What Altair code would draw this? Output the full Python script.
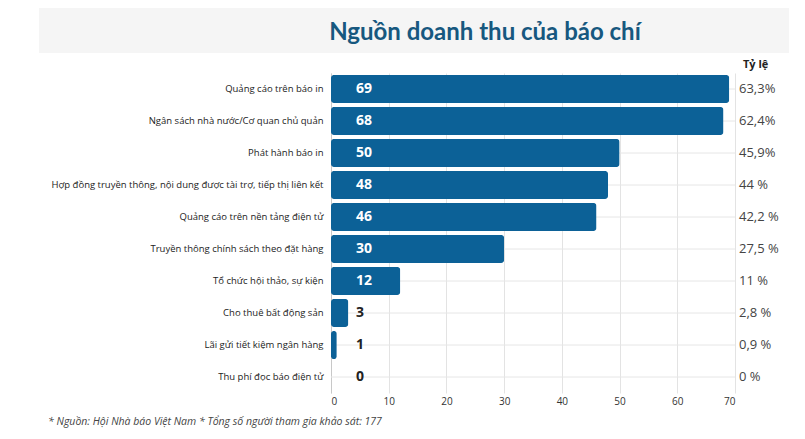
import altair as alt
import pandas as pd

categories = [
    "Quảng cáo trên báo in",
    "Ngân sách nhà nước/Cơ quan chủ quản",
    "Phát hành báo in",
    "Hợp đồng truyền thông, nội dung được tài trợ, tiếp thị liên kết",
    "Quảng cáo trên nền tảng điện tử",
    "Truyền thông chính sách theo đặt hàng",
    "Tổ chức hội thảo, sự kiện",
    "Cho thuê bất động sản",
    "Lãi gửi tiết kiệm ngân hàng",
    "Thu phí đọc báo điện tử",
]
values = [69, 68, 50, 48, 46, 30, 12, 3, 1, 0]
pct_labels = ["63,3%", "62,4%", "45,9%", "44 %", "42,2 %", "27,5 %", "11 %", "2,8 %", "0,9 %", "0 %"]
x_ticks = [0, 10, 20, 30, 40, 50, 60, 70]

title_text = "Nguồn doanh thu của báo chí"
ratio_header = "Tỷ lệ"
footer_text = "*  Nguồn: Hội Nhà báo Việt Nam * Tổng số người tham gia khảo sát: 177"

df = pd.DataFrame({"cat": categories, "val": values, "pct": pct_labels})
df["lbl"] = df["val"].astype(str)

W, H = 404, 320
FONT = "Open Sans"

yenc = alt.Y(
    "cat:N",
    sort=categories,
    scale=alt.Scale(paddingInner=0.12, paddingOuter=0.06),
    axis=alt.Axis(
        title=None, ticks=False, domain=True, domainColor="#c8c8c8", grid=False,
        labelFont=FONT, labelFontSize=9.5, labelColor="#222222", labelPadding=8,
        labelLimit=320,
    ),
)
xenc = alt.X(
    "val:Q",
    scale=alt.Scale(domain=[0, 70]),
    axis=alt.Axis(
        title=None, values=x_ticks, domain=False, grid=True, gridColor="#e3e3e3",
        ticks=False, labelFont=FONT, labelFontSize=10,
        labelColor="#333333", labelPadding=3,
    ),
)

base = alt.Chart(df)

band = alt.Chart(pd.DataFrame({"a": [1]})).mark_rect(color="#f5f5f5").encode(
    x=alt.value(-292), x2=alt.value(461), y=alt.value(-65), y2=alt.value(-20)
)

hrules = base.mark_rule(color="#e6e6e6", strokeWidth=1).encode(
    y=alt.Y("cat:N", sort=categories), x=alt.value(0), x2=alt.value(W)
)

bars = base.mark_bar(color="#0c6197", cornerRadius=3).encode(x=xenc, y=yenc)

vals = base.mark_text(align="left", baseline="middle", font=FONT, fontSize=14,
                      fontWeight="bold").encode(
    y=alt.Y("cat:N", sort=categories),
    x=alt.value(25),
    text="lbl:N",
    color=alt.condition(alt.datum.val >= 10, alt.value("white"), alt.value("#222222")),
)

pcts = base.mark_text(align="left", baseline="middle", font=FONT, fontSize=13,
                      color="#444444").encode(
    y=alt.Y("cat:N", sort=categories), x=alt.value(408), text="pct:N"
)

header = alt.Chart(pd.DataFrame({"t": [ratio_header]})).mark_text(
    align="left", baseline="middle", font=FONT, fontSize=11, fontWeight="bold", color="#222222"
).encode(text="t:N", x=alt.value(412), y=alt.value(-8))

title = alt.Chart(pd.DataFrame({"t": [title_text]})).mark_text(
    align="center", baseline="middle", font="Lato", fontSize=24, fontWeight="bold", color="#17587f"
).encode(text="t:N", x=alt.value(154), y=alt.value(-40))

footer = alt.Chart(pd.DataFrame({"t": [footer_text]})).mark_text(
    align="left", baseline="middle", font=FONT, fontSize=10.5, fontStyle="italic", color="#444444"
).encode(text="t:N", x=alt.value(-283), y=alt.value(349))

chart = alt.layer(band, hrules, bars, vals, pcts, header, title, footer).properties(
    width=W, height=H,
    autosize=alt.AutoSizeParams(type="none"),
    padding={"left": 323, "top": 65, "right": 54, "bottom": 36},
).configure_view(stroke=None)

chart.save("out.html", embed_options={"renderer": "svg", "actions": False})
